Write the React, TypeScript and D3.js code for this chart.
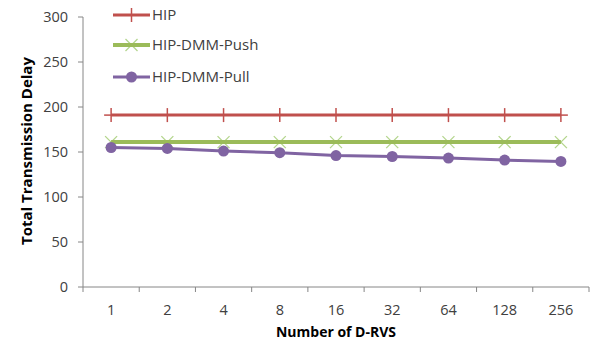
import React from "react";
import * as d3 from "d3";

const categories = ["1", "2", "4", "8", "16", "32", "64", "128", "256"];
const hipValues = [191, 191, 191, 191, 191, 191, 191, 191, 191];
const pushValues = [161, 161, 161, 161, 161, 161, 161, 161, 161];
const pullValues = [155, 154, 151, 149.3, 146, 145, 143.3, 141, 139.5];
const yTicks = [0, 50, 100, 150, 200, 250, 300];
const seriesNames = ["HIP", "HIP-DMM-Push", "HIP-DMM-Pull"];

const W = 596;
const H = 343;
const FONT = "'Open Sans', 'Liberation Sans', sans-serif";

export default function App() {
  const x = d3.scaleBand<string>().domain(categories).range([83, 589]).paddingInner(0).paddingOuter(0);
  const y = d3.scaleLinear().domain([0, 300]).range([287, 17]);
  const cx = (c: string) => (x(c) as number) + x.bandwidth() / 2;
  const line = d3
    .line<number>()
    .x((_, i) => cx(categories[i]))
    .y((v) => y(v));

  const red = "#C0504D";
  const green = "#9BBB59";
  const greenMarker = "#B3D58C";
  const purple = "#8064A2";
  const axis = "#868686";
  const text = "#404040";

  const plus = (px: number, py: number, key: string) => (
    <g key={key} stroke={red} strokeWidth={1.5}>
      <line x1={px - 7} x2={px + 7} y1={py} y2={py} />
      <line x1={px} x2={px} y1={py - 7} y2={py + 7} />
    </g>
  );
  const cross = (px: number, py: number, key: string) => (
    <g key={key} stroke={greenMarker} strokeWidth={1.3}>
      <line x1={px - 6} x2={px + 6} y1={py - 6} y2={py + 6} />
      <line x1={px - 6} x2={px + 6} y1={py + 6} y2={py - 6} />
    </g>
  );
  const dot = (px: number, py: number, key: string) => (
    <circle key={key} cx={px} cy={py} r={5.5} fill={purple} />
  );

  const boundaries = categories.map((c) => x(c) as number).concat([589]);

  const legendY = [15, 45, 77];
  const legendX1 = 113;
  const legendX2 = 150;
  const legendMid = (legendX1 + legendX2) / 2;

  return (
    <svg width={W} height={H} style={{ position: "absolute", left: 0, top: 0, background: "#fff" }}>
      {/* axes */}
      <line x1={83} x2={83} y1={y(300)} y2={y(0)} stroke={axis} strokeWidth={1} />
      <line x1={83} x2={589} y1={y(0)} y2={y(0)} stroke={axis} strokeWidth={1} />
      {yTicks.map((t) => (
        <g key={"yt" + t}>
          <line x1={78} x2={83} y1={y(t)} y2={y(t)} stroke={axis} />
          <text x={68} y={y(t)} dy="0.36em" textAnchor="end" fontFamily={FONT} fontSize={14.5} fill={text}>
            {t}
          </text>
        </g>
      ))}
      {boundaries.map((b, i) => (
        <line key={"xt" + i} x1={b} x2={b} y1={y(0)} y2={y(0) + 5} stroke={axis} />
      ))}
      {categories.map((c) => (
        <text key={"xl" + c} x={cx(c)} y={310} dy="0.36em" textAnchor="middle" fontFamily={FONT} fontSize={14.5} fill={text}>
          {c}
        </text>
      ))}
      <text x={336} y={332} dy="0.36em" textAnchor="middle" fontFamily={FONT} fontSize={14} fontWeight="bold" fill="#000">
        Number of D-RVS
      </text>
      <text
        transform={`translate(27, ${y(150) - 1}) rotate(-90)`}
        textAnchor="middle"
        dy="0.36em"
        fontFamily={FONT}
        fontSize={15}
        fontWeight="bold"
        fill="#000"
      >
        Total Transmission Delay
      </text>

      {/* series */}
      <path d={line(hipValues) || ""} fill="none" stroke={red} strokeWidth={3} />
      {hipValues.map((v, i) => plus(cx(categories[i]), y(v), "p" + i))}
      {pushValues.map((v, i) => cross(cx(categories[i]), y(v), "c" + i))}
      <path d={line(pushValues) || ""} fill="none" stroke={green} strokeWidth={4} />
      <path d={line(pullValues) || ""} fill="none" stroke={purple} strokeWidth={3} />
      {pullValues.map((v, i) => dot(cx(categories[i]), y(v), "d" + i))}

      {/* legend */}
      <line x1={legendX1} x2={legendX2} y1={legendY[0]} y2={legendY[0]} stroke={red} strokeWidth={3} />
      {plus(legendMid, legendY[0], "lp")}
      {cross(legendMid, legendY[1], "lc")}
      <line x1={legendX1} x2={legendX2} y1={legendY[1]} y2={legendY[1]} stroke={green} strokeWidth={4} />
      <line x1={legendX1} x2={legendX2} y1={legendY[2]} y2={legendY[2]} stroke={purple} strokeWidth={3} />
      {dot(legendMid, legendY[2], "ld")}
      {seriesNames.map((n, i) => (
        <text key={n} x={152} y={legendY[i]} dy="0.36em" fontFamily={FONT} fontSize={15} fill={text}>
          {n}
        </text>
      ))}
    </svg>
  );
}
